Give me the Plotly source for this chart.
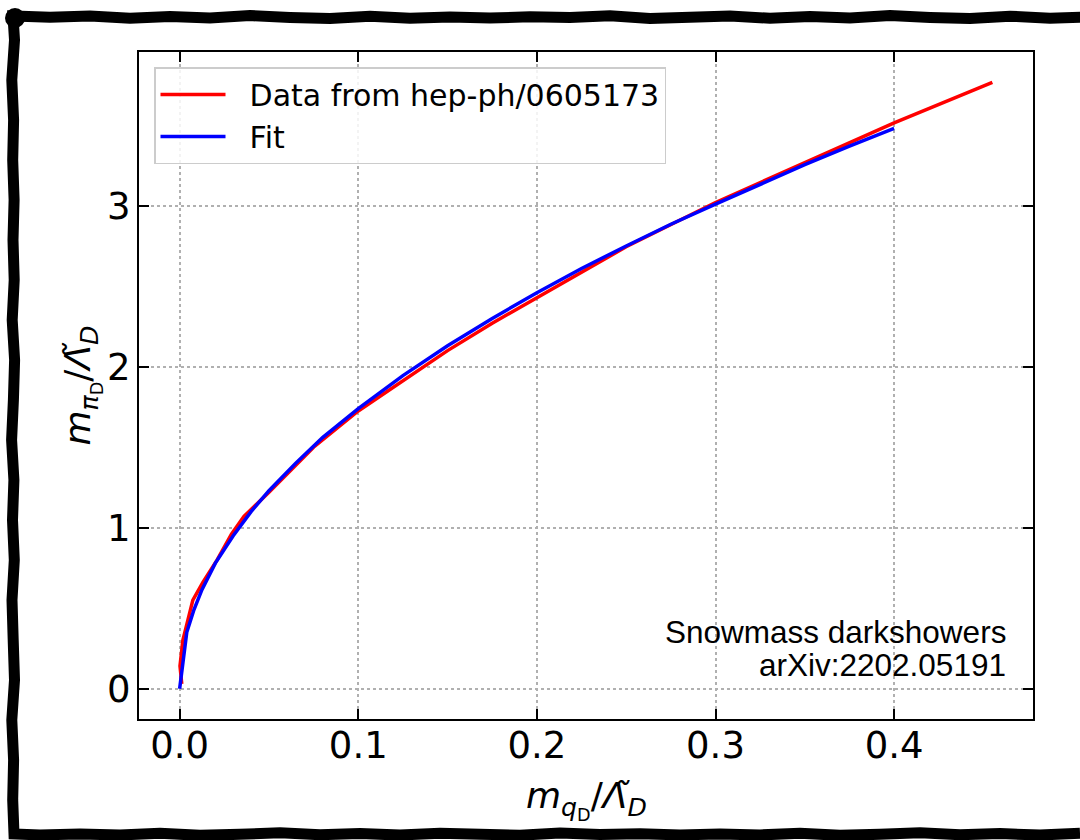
import plotly.graph_objects as go

# ---- data ----
data_x = [0.0012, 0.0002, 0.0018, 0.0074, 0.013, 0.021, 0.029, 0.036, 0.05, 0.075,
          0.1, 0.125, 0.15, 0.175, 0.2, 0.25, 0.3, 0.35, 0.4, 0.455]
data_y = [0.03, 0.14, 0.30, 0.55, 0.66, 0.80, 0.96, 1.07, 1.22, 1.50,
          1.725, 1.915, 2.10, 2.27, 2.43, 2.745, 3.02, 3.265, 3.515, 3.767]

fit_x = [0.0, 0.004, 0.008, 0.0125, 0.02, 0.03, 0.04, 0.05, 0.065, 0.08, 0.1,
         0.125, 0.15, 0.175, 0.2, 0.225, 0.25, 0.275, 0.3, 0.325, 0.35, 0.375, 0.4]
fit_y = [0.0, 0.35, 0.49, 0.615, 0.78, 0.95, 1.10, 1.23, 1.40, 1.56, 1.74,
         1.945, 2.13, 2.30, 2.46, 2.61, 2.75, 2.885, 3.01, 3.135, 3.255, 3.37, 3.48]

x_ticks = [0.0, 0.1, 0.2, 0.3, 0.4]
y_ticks = [0, 1, 2, 3]
series_names = ["Data from hep-ph/0605173", "Fit"]
note_lines = ["Snowmass darkshowers", "arXiv:2202.05191"]
x_title = "<i>m</i><sub><i>q</i><sub>D</sub></sub>/<i>Λ̃</i><sub><i>D</i></sub>"
y_title = "<i>m</i><sub><i>π</i><sub>D</sub></sub>/<i>Λ̃</i><sub><i>D</i></sub>"

W, H = 1080, 840
L, R, T, B = 139, 1033, 52, 719

fig = go.Figure()
fig.add_trace(go.Scatter(x=data_x, y=data_y, mode="lines",
                         name="\u00a0\u00a0" + series_names[0],
                         line=dict(color="#ff0000", width=3.5)))
fig.add_trace(go.Scatter(x=fit_x, y=fit_y, mode="lines",
                         name="\u00a0\u00a0" + series_names[1],
                         line=dict(color="#0000ff", width=3.5)))

axis_common = dict(
    showline=True, linecolor="black", linewidth=2, mirror="ticks",
    ticks="inside", ticklen=10, tickwidth=1.8, tickcolor="black",
    showgrid=True, gridcolor="#b0b0b0", griddash="dot", gridwidth=1.5,
    zeroline=False,
    tickfont=dict(family="DejaVu Sans", size=37, color="black"),
)

fig.update_xaxes(range=[-0.02275, 0.47775], tickvals=x_ticks,
                 ticktext=[f"{v:.1f}" for v in x_ticks], ticklabelstandoff=-7,
                 **axis_common)
fig.update_yaxes(range=[-0.1884, 3.955], tickvals=y_ticks,
                 ticktext=[str(v) for v in y_ticks], ticklabelstandoff=-1,
                 title=dict(text=y_title,
                            font=dict(family="DejaVu Sans", size=36, color="black"),
                            standoff=3),
                 **axis_common)

# x-axis title as an annotation for exact placement
fig.add_annotation(text=x_title, xref="paper", yref="paper", x=0.5,
                   y=(B - 800) / (B - T), xanchor="center", yanchor="middle",
                   showarrow=False,
                   font=dict(family="DejaVu Sans", size=36, color="black"))

# sketchy hand-drawn frame around the figure
def px2paper(px, py):
    return (px - L) / (R - L), (B - py) / (B - T)

wob = [0, 1.2, -0.8, 1.6, 0.4, -1.4, 0.9, -0.5, 1.3, -1.0, 0.2, 1.5, -1.2, 0.6, -0.3, 1.1]
pts = []
i = 0
for px in range(1090, 10, -40):
    pts.append((px, 17 + wob[i % len(wob)])); i += 1
pts.append((13, 16))
for py in range(40, 836, 40):
    pts.append((13 + wob[i % len(wob)], py)); i += 1
pts.append((14, 834))
for px in range(40, 1100, 40):
    pts.append((px, 834 + wob[i % len(wob)] * 0.8)); i += 1
path = ""
for k, (px, py) in enumerate(pts):
    X, Y = px2paper(px, py)
    path += ("M" if k == 0 else "L") + f"{X:.5f},{Y:.5f} "
fig.add_shape(type="path", path=path, xref="paper", yref="paper",
              line=dict(color="black", width=11), layer="above")
cx0, cy0 = px2paper(5, 8)
cx1, cy1 = px2paper(25, 28)
fig.add_shape(type="circle", xref="paper", yref="paper", x0=cx0, y0=cy0, x1=cx1, y1=cy1,
              fillcolor="black", line=dict(color="black", width=0), layer="above")

note_centers = [632, 665]
for txt, cy in zip(note_lines, note_centers):
    fig.add_annotation(text=txt, xref="paper", yref="paper",
                       x=(1008 - L) / (R - L), y=(B - cy) / (B - T),
                       xanchor="right", yanchor="middle", align="right", showarrow=False,
                       font=dict(family="Liberation Sans", size=31.5, color="black"))

fig.update_layout(
    width=W, height=H,
    margin=dict(l=L, r=W - R, t=T, b=H - B, pad=0),
    paper_bgcolor="white", plot_bgcolor="white",
    showlegend=True,
    legend=dict(x=(154 - L) / (R - L), y=(B - 67) / (B - T), xanchor="left", yanchor="top",
                bgcolor="rgba(255,255,255,0.85)", bordercolor="#cccccc", borderwidth=1.5,
                font=dict(family="DejaVu Sans", size=30, color="black"),
                itemwidth=65, traceorder="normal"),
)

fig.write_html("out.html", config={"displayModeBar": False},
               post_script="document.body.style.margin='0px';")
